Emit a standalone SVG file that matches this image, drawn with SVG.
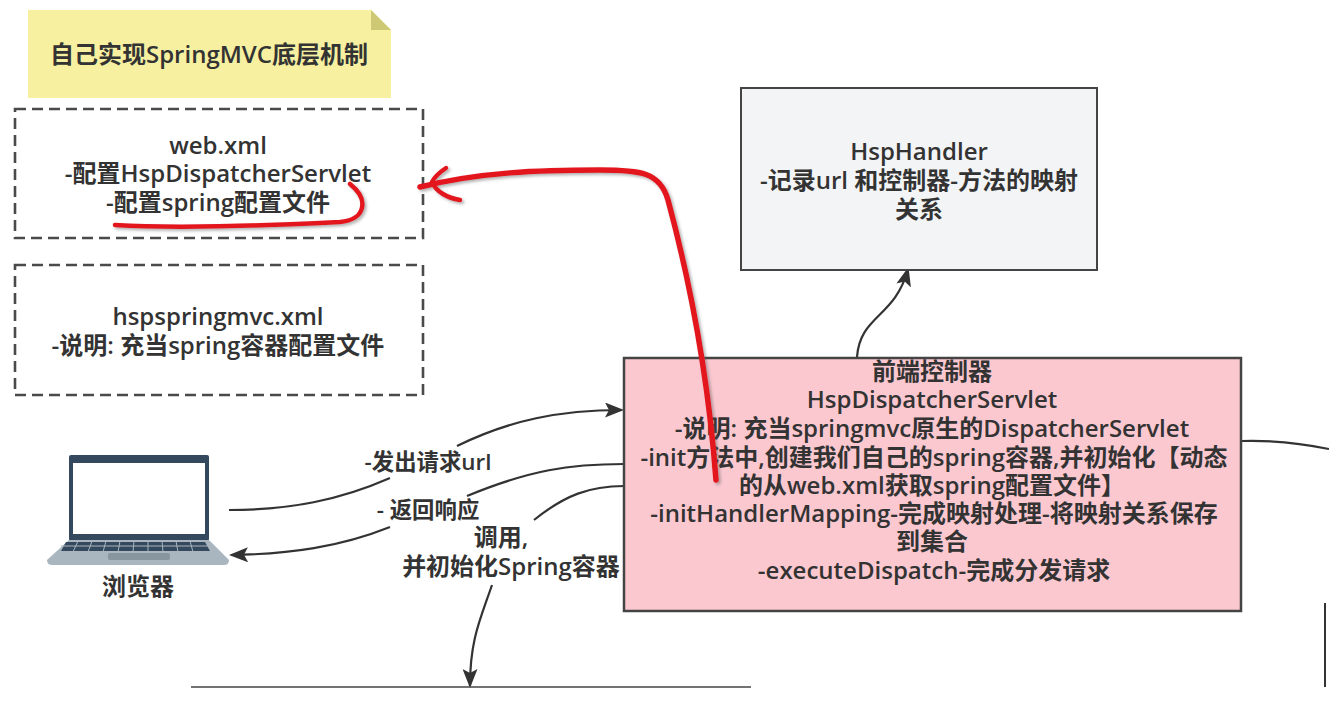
<svg xmlns="http://www.w3.org/2000/svg" width="1329" height="705" viewBox="0 0 1329 705">
<style>
text{font-family:"Open Sans","Noto Sans CJK SC",sans-serif;font-weight:600;fill:#333;text-anchor:middle;font-size:24px}
text.s{font-size:22.4px}
.c{fill:none;stroke:#333;stroke-width:2.2}
.d{fill:#fff;stroke:#4a4a4a;stroke-width:2.6;stroke-dasharray:11 6}
.r{fill:none;stroke:#e2151f;stroke-width:4.5;stroke-linecap:round;stroke-linejoin:round}
</style>
<defs>
<marker id="b" markerWidth="19" markerHeight="15" refX="17" refY="7.5" orient="auto" markerUnits="userSpaceOnUse" viewBox="0 0 19 15"><path d="M0 0L19 7.5L0 15L4 7.5Z" fill="#333"/></marker>
<filter id="s" x="-5%" y="-5%" width="110%" height="110%"><feDropShadow dx="2" dy="2" stdDeviation="1.5" flood-color="#555" flood-opacity=".45"/></filter>
</defs>
<rect width="1329" height="705" fill="#fff"/>
<g id="connectors">
<path class="c" d="M857 357C860 315 895 318 908 269" marker-end="url(#b)"/>
<path class="c" d="M229 510C290 510 340 500 390 478"/>
<path class="c" d="M457 446C510 420 560 410 622 410" marker-end="url(#b)"/>
<path class="c" d="M624 464C570 464 530 470 467 496"/>
<path class="c" d="M390 527C340 547 290 554 231 555" marker-end="url(#b)"/>
<path class="c" d="M624 486C590 486 565 495 534 520"/>
<path class="c" d="M492 585C480 620 470 640 470 686" marker-end="url(#b)"/>
<path class="c" d="M1242 441C1275 440 1305 444 1329 449"/>
<path d="M191 687H751" fill="none" stroke="#444" stroke-width="1.5"/>
<path d="M1325 603V687" fill="none" stroke="#333" stroke-width="2"/>
</g>
<g id="note">
<path d="M28 10H371L391 30V98H28Z" fill="#f6f0a0"/>
<path d="M371 10L391 30H371Z" fill="#cdc873"/>
<text x="209" y="63">自己实现SpringMVC底层机制</text>
</g>
<g id="webxml">
<rect class="d" x="15" y="109" width="408" height="129"/>
<text x="218" y="154">web.xml</text>
<text x="218" y="182">-配置HspDispatcherServlet</text>
<text x="218" y="211">-配置spring配置文件</text>
</g>
<g id="hspspringmvc">
<rect class="d" x="15" y="265" width="408" height="130"/>
<text x="218" y="325">hspspringmvc.xml</text>
<text x="218" y="354">-说明: 充当spring容器配置文件</text>
</g>
<g id="handler">
<rect x="741" y="88" width="356" height="182" fill="#f3f4f6" stroke="#444" stroke-width="2"/>
<text x="919" y="160">HspHandler</text>
<text x="919" y="189">-记录url 和控制器-方法的映射</text>
<text x="919" y="218">关系</text>
</g>
<g id="dispatcher">
<rect x="624" y="358" width="617" height="253" fill="#fbc8d0" stroke="#444" stroke-width="2.5"/>
<text x="932" y="380">前端控制器</text>
<text x="932" y="408">HspDispatcherServlet</text>
<text x="932" y="437">-说明: 充当springmvc原生的DispatcherServlet</text>
<text x="934" y="466">-init方法中,创建我们自己的spring容器,并初始化【动态</text>
<text x="932" y="494">的从web.xml获取spring配置文件】</text>
<text x="934" y="522">-initHandlerMapping-完成映射处理-将映射关系保存</text>
<text x="932" y="550">到集合</text>
<text x="934" y="579">-executeDispatch-完成分发请求</text>
</g>
<g id="browser">
<rect x="69" y="455" width="140" height="86" rx="2" fill="#34495e"/>
<rect x="73" y="463" width="132" height="71" fill="#fff"/>
<path d="M69 540H209L229 560Q229 565 224 565H52Q47 565 47 560Z" fill="#a9b6bf"/>
<path d="M66 542H205L210 551H61Z" fill="#34495e"/>
<g stroke="#a9b6bf" stroke-width="1"><path d="M61 546H210M78 541L73 552M92 541L88 552M106 541L103 552M120 541L118 552M134 541L133 552M148 541L148 552M162 541L163 552M176 541L178 552M190 541L193 552"/></g>
<rect x="108" y="553" width="62" height="7" rx="2" fill="#87969e"/>
<text x="138" y="595">浏览器</text>
</g>
<g id="labels">
<text class="s" x="428" y="470">-发出请求url</text>
<text class="s" x="428" y="518">- 返回响应</text>
<text x="501" y="546">调用,</text>
<text x="511" y="575">并初始化Spring容器</text>
</g>
<g id="annotations" filter="url(#s)">
<path class="r" d="M115 225C180 229 260 226 340 222C365 220 370 200 350 184"/>
<path class="r" style="stroke-width:5.5" d="M716 480C710 400 695 300 668 200C660 172 640 170 600 170C540 170 480 172 420 187"/>
<path class="r" d="M446 168C440 172 434 178 432 182C436 192 448 198 460 200"/>
</g>
</svg>
